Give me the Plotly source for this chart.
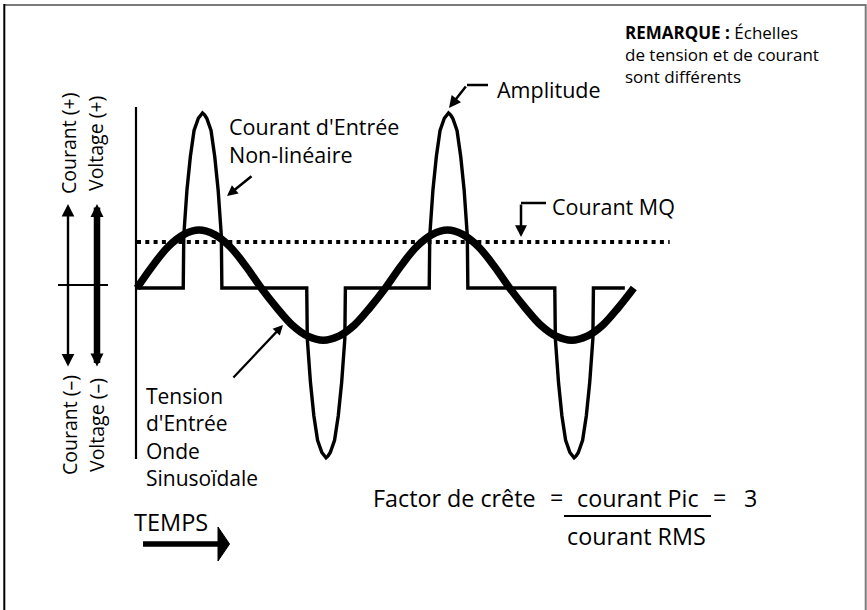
import plotly.graph_objects as go

# ------------------------------------------------------------------
# DATA
# time axis in electrical degrees (two cycles)
volt_t = [0, 22.5, 45, 67.5, 90, 112.5, 135, 157.5, 180, 202.5, 225, 247.5,
          270, 292.5, 315, 337.5, 360, 382.5, 405, 427.5, 450, 472.5, 495,
          517.5, 540, 562.5, 585, 607.5, 630, 652.5, 675, 697.5, 720]
# input voltage (sine wave), normalised units
volt_v = [0, 0.38, 0.71, 0.92, 1.0, 0.92, 0.71, 0.38, 0, -0.34, -0.64, -0.83,
          -0.9, -0.83, -0.64, -0.34, 0, 0.38, 0.71, 0.92, 1.0, 0.92, 0.71,
          0.38, 0, -0.34, -0.64, -0.83, -0.9, -0.83, -0.64, -0.34, 0]

# non-linear input current, normalised units (peak = 1)
cur_t = [0,
         67, 67.8, 72.4, 77.3, 82.7, 88.9, 92.1, 95, 97.9, 101.1, 107.3, 112.7, 117.6, 122.2, 123,
         246, 246.8, 251.4, 256.3, 261.7, 267.9, 271.1, 274, 276.9, 280.1, 286.3, 291.7, 296.6, 301.2, 302,
         423.5, 424.3, 428.9, 433.8, 439.2, 445.4, 448.6, 451.5, 454.4, 457.6, 463.8, 469.2, 474.1, 478.7, 479.5,
         605.5, 606.3, 610.9, 615.8, 621.2, 627.4, 630.6, 633.5, 636.4, 639.6, 645.8, 651.2, 656.1, 660.7, 661.5,
         707]
cur_i = [0,
         0, 0.30, 0.56, 0.75, 0.90, 0.97, 0.99, 1.0, 0.99, 0.97, 0.90, 0.75, 0.56, 0.30, 0,
         0, -0.29, -0.54, -0.73, -0.87, -0.94, -0.96, -0.97, -0.96, -0.94, -0.87, -0.73, -0.54, -0.29, 0,
         0, 0.30, 0.56, 0.75, 0.90, 0.97, 0.99, 1.0, 0.99, 0.97, 0.90, 0.75, 0.56, 0.30, 0,
         0, -0.29, -0.54, -0.73, -0.87, -0.94, -0.96, -0.97, -0.96, -0.94, -0.87, -0.73, -0.54, -0.29, 0,
         0]

# RMS current level (dotted line)
rms_t = [0, 772]
rms_i = [0.263, 0.263]

# ------------------------------------------------------------------
# LAYOUT CONSTANTS
W, H = 867, 610
X0_PX, PX_PER_DEG = 137.0, 0.69     # where t = 0 sits, horizontal scale
BASE_PX = 288.0                     # zero line (pixels from top)
CUR_PX = 175.0                      # pixels per current unit
VOLT_PX = 58.0                      # pixels per voltage unit

x_range = [-X0_PX / PX_PER_DEG, (W - X0_PX) / PX_PER_DEG]
y_range = [-(H - BASE_PX) / CUR_PX, BASE_PX / CUR_PX]
y2_range = [-(H - BASE_PX) / VOLT_PX, BASE_PX / VOLT_PX]

FONT = "Open Sans"


def px(x, y):
    """pixel position -> paper coordinates"""
    return x / W, 1 - y / H


fig = go.Figure()

fig.add_trace(go.Scatter(x=rms_t, y=rms_i, mode="lines",
                         line=dict(color="black", width=4, dash="4px,4.3px"),
                         hoverinfo="skip", showlegend=False))
fig.add_trace(go.Scatter(x=cur_t, y=cur_i, mode="lines",
                         line=dict(color="black", width=3.4),
                         hoverinfo="skip", showlegend=False))
fig.add_trace(go.Scatter(x=volt_t, y=volt_v, mode="lines", yaxis="y2",
                         line=dict(color="black", width=7.5, shape="spline"),
                         hoverinfo="skip", showlegend=False))

shapes = []


def seg(x1, y1, x2, y2, w=2.0, color="black"):
    a, b = px(x1, y1)
    c, d = px(x2, y2)
    shapes.append(dict(type="line", xref="paper", yref="paper",
                       x0=a, y0=b, x1=c, y1=d,
                       line=dict(color=color, width=w)))


# frame
seg(4, 5, 866, 5, 2, "#7a7a7a")
seg(4.3, 4, 4.3, 610, 2, "black")
seg(865.7, 4, 865.7, 610, 2, "#7a7a7a")
# vertical axis and short zero tick
seg(136, 107, 136, 459, 2.2)
seg(58, 285, 108, 285, 2.2)
# elbow parts of arrows
seg(488, 85, 467, 85, 2.5)
seg(546, 203, 521, 203, 2.5)
# fraction bar
seg(564, 516, 711, 516, 2)
# TEMPS arrow
seg(143, 544, 220, 544, 5.5)
p1 = px(218, 527)
p2 = px(229.5, 544)
p3 = px(218, 561)
shapes.append(dict(type="path", xref="paper", yref="paper",
                   path=f"M{p1[0]},{p1[1]} L{p2[0]},{p2[1]} L{p3[0]},{p3[1]} Z",
                   fillcolor="black", line=dict(color="black", width=1)))

annotations = []


def arrow(hx, hy, tx, ty, w=2.5, size=0.9, both=False):
    a, b = px(hx, hy)
    d = dict(x=a, y=b, xref="paper", yref="paper", text="",
             showarrow=True, ax=tx - hx, ay=ty - hy, axref="pixel", ayref="pixel",
             arrowhead=2, arrowsize=size, arrowwidth=w, arrowcolor="black",
             standoff=0)
    if both:
        d.update(arrowside="end+start", startarrowhead=2, startarrowsize=size,
                 startstandoff=0)
    annotations.append(d)


arrow(227, 196, 253, 175, 2.5, 0.85)          # Courant d'Entrée
arrow(283, 325, 232, 379, 2.2, 0.9)           # Tension
arrow(449, 108, 467, 85, 2.5, 0.95)           # Amplitude
arrow(521, 237, 521, 203, 2.5, 0.95)          # Courant MQ
arrow(68, 204, 68, 368, 2.4, 1.05, both=True)  # current double arrow
arrow(97, 204, 97, 368, 6.5, 0.4, both=True)   # voltage double arrow


def label(text, x, y, size=21.5, xanchor="left", angle=0, yanchor="middle",
          align="left"):
    a, b = px(x, y)
    annotations.append(dict(x=a, y=b, xref="paper", yref="paper", text=text,
                            showarrow=False, xanchor=xanchor, yanchor=yanchor,
                            textangle=angle, align=align,
                            font=dict(family=FONT, size=size, color="black")))


label("Courant d'Entrée<br>Non-linéaire", 227, 140, size=21.5)
label("Amplitude", 495, 90)
label("Courant MQ", 550, 206)
label("Tension<br>d'Entrée<br>Onde<br>Sinusoïdale", 144, 436.5, size=21)
label("Factor de crête", 371, 498, size=23.3)
label("=", 556, 497, size=23.3, xanchor="center")
label("courant Pic", 575, 498, size=23.3)
label("=", 719, 497, size=23.3, xanchor="center")
label("3", 742, 498, size=23.3)
label("courant RMS", 565, 536, size=23.3)
label("TEMPS", 132, 522, size=23.5)
label("<b>REMARQUE :</b> Échelles<br>de tension et de courant<br>sont différents",
      623, 55, size=17)
label("Courant (+)", 69, 144, size=19.5, xanchor="center", angle=-90)
label("Voltage (+)", 96, 144, size=19.5, xanchor="center", angle=-90)
label("Courant (–)", 69, 425, size=19.5, xanchor="center", angle=-90)
label("Voltage (–)", 96, 425, size=19.5, xanchor="center", angle=-90)

fig.update_layout(
    width=W, height=H, autosize=False,
    margin=dict(l=0, r=0, t=0, b=0, pad=0),
    paper_bgcolor="white", plot_bgcolor="white",
    showlegend=False,
    xaxis=dict(range=x_range, visible=False, domain=[0, 1], fixedrange=True),
    yaxis=dict(range=y_range, visible=False, domain=[0, 1], fixedrange=True),
    yaxis2=dict(range=y2_range, visible=False, overlaying="y", fixedrange=True),
    shapes=shapes,
    annotations=annotations,
)

fig.write_html(
    "out.html",
    config={"displayModeBar": False},
    post_script="document.body.style.margin='0';"
                "document.body.style.overflow='hidden';",
)
